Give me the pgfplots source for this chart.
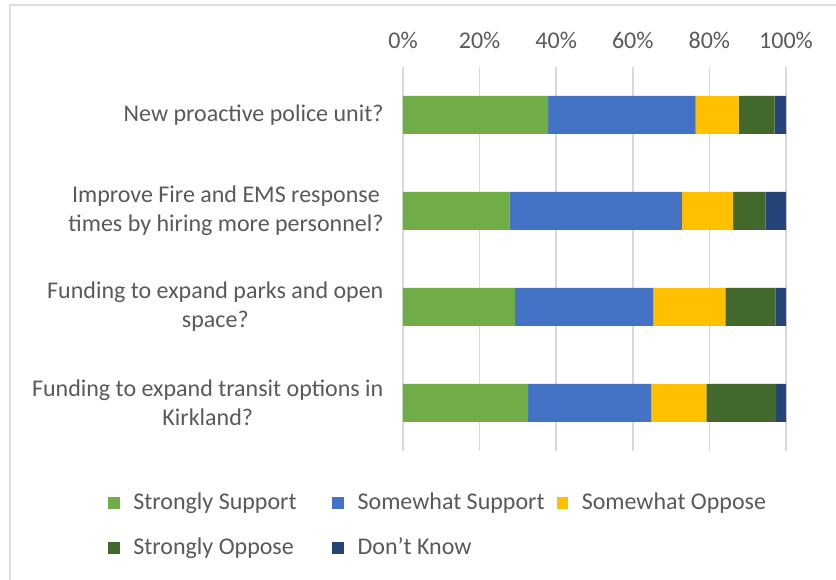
\documentclass[border=0pt]{standalone}
\usepackage{pgfplots}
\pgfplotsset{compat=1.18}
\usepackage{fontspec}
\setmainfont{Carlito}
\definecolor{cSS}{HTML}{70AD47}
\definecolor{cSwS}{HTML}{4472C4}
\definecolor{cSwO}{HTML}{FFC000}
\definecolor{cSO}{HTML}{43682B}
\definecolor{cDK}{HTML}{264478}
\definecolor{txt}{HTML}{595959}
\definecolor{gridc}{HTML}{D9D9D9}
\definecolor{framec}{HTML}{DDDDDD}
\newcommand\lbl{\fontsize{24}{29}\selectfont}
\newcommand\legbox[1]{\makebox[199pt][l]{#1}}
\begin{document}
\begin{tikzpicture}[x=1pt,y=1pt]
\path[use as bounding box] (0,0) rectangle (836,580);
\draw[color=framec, line width=2pt] (10,0) -- (10,575) -- (836,575);
\begin{axis}[
  at={(403pt,129pt)}, anchor=south west,
  scale only axis, width=383pt, height=384pt,
  xbar stacked, bar width=38pt,
  xmin=0, xmax=100, ymin=-0.5, ymax=3.5, y dir=reverse,
  axis x line*=top, axis y line*=left,
  axis line style={draw=none},
  major tick length=0pt,
  xtick={0,20,40,60,80,100},
  xticklabel={\pgfmathprintnumber{\tick}\%},
  /pgf/number format/assume math mode=true,
  xticklabel style={font=\lbl, text=txt, yshift=15pt},
  xmajorgrids, grid style={color=gridc, line width=1.4pt},
  ytick={0,1,2,3},
  yticklabels={{New proactive police unit?},{Improve Fire and EMS response\\times by hiring more personnel?},{Funding to expand parks and open\\space?},{Funding to expand transit options in\\Kirkland?}},
  yticklabel style={font=\lbl, text=txt, align=center, xshift=-16pt},
  legend columns=3,
  legend style={draw=none, at={(axis description cs:0,0)}, anchor=north west, xshift=-295pt, yshift=-41pt,
    font=\lbl, text=txt, inner sep=0pt,
    nodes={inner xsep=0pt, inner ysep=0pt, text height=17pt, text depth=5pt},
    row sep=23pt,
    /tikz/every odd column/.append style={column sep=13.7pt}},
  legend image code/.code={\fill[#1] (0pt,-5.5pt) rectangle (11.5pt,6pt);},
]
\addplot[fill=cSS, draw=none] coordinates {(37.9,0) (27.8,1) (29.2,2) (32.7,3)};
\addplot[fill=cSwS, draw=none] coordinates {(38.5,0) (45.0,1) (36.2,2) (32.1,3)};
\addplot[fill=cSwO, draw=none] coordinates {(11.2,0) (13.4,1) (18.8,2) (14.4,3)};
\addplot[fill=cSO, draw=none] coordinates {(9.4,0) (8.5,1) (13.0,2) (18.2,3)};
\addplot[fill=cDK, draw=none] coordinates {(3.0,0) (5.3,1) (2.8,2) (2.6,3)};
\legend{\legbox{Strongly Support}, \legbox{Somewhat Support}, \legbox{Somewhat Oppose}, \legbox{Strongly Oppose}, \legbox{Don't Know}}
\end{axis}
\end{tikzpicture}
\end{document}
